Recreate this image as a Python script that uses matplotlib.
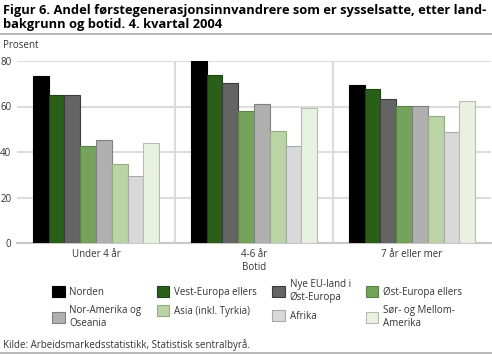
import matplotlib.pyplot as plt
import numpy as np

plt.rcParams['font.family'] = ['Open Sans', 'DejaVu Sans']

categories = ['Under 4 år', '4-6 år', '7 år eller mer']
series = ['Norden', 'Vest-Europa ellers', 'Nye EU-land i\nØst-Europa', 'Øst-Europa ellers',
          'Nor-Amerika og\nOseania', 'Asia (inkl. Tyrkia)', 'Afrika', 'Sør- og Mellom-\nAmerika']
values = [
    [73.6, 79.8, 69.6],
    [65.2, 73.7, 67.7],
    [64.9, 70.5, 63.5],
    [42.8, 58.2, 60.4],
    [45.4, 61.0, 60.4],
    [34.9, 49.1, 56.0],
    [29.6, 42.8, 48.7],
    [44.1, 59.5, 62.6],
]
colors = ['#000000', '#2a5f19', '#646464', '#76a35c', '#b0b0b0', '#bad4a6', '#d9d9d9', '#e9f1e1']
edges = ['#000000', '#1d4411', '#3c3c3c', '#5a8246', '#808080', '#95ac85', '#a8a8a8', '#b5bcae']

fig = plt.figure(figsize=(4.92, 3.55), dpi=100)
W, H = 492, 355
ax = fig.add_axes([17 / W, 1 - 243 / H, 474 / W, 182 / H])

x = np.arange(len(categories))
bw = 0.1
handles = []
for i, (name, vals) in enumerate(zip(series, values)):
    h = ax.bar(x - 0.35 + i * bw, vals, bw, color=colors[i], edgecolor=edges[i],
               linewidth=0.8, label=name, zorder=3)
    handles.append(h)

ax.set_xlim(-0.5, 2.5)
ax.set_ylim(0, 80)
ax.set_yticks([0, 20, 40, 60, 80])
ax.grid(axis='y', color='#dcdcdc', linewidth=1.5, zorder=0)
for sep in [0.5, 1.5]:
    ax.axvline(sep, color='#dcdcdc', linewidth=1.5, zorder=0)
for s in ['top', 'right', 'left']:
    ax.spines[s].set_visible(False)
ax.spines['bottom'].set_color('#c8c8c8')
ax.spines['bottom'].set_linewidth(1.5)
ax.set_xticks(x)
ax.set_xticklabels(categories)
ax.tick_params(length=0, labelsize=7, colors='#333333', pad=4)
ax.set_xlabel('Botid', fontsize=7, color='#333333', labelpad=2)

fig.text(0.006, 1 - 4 / H, 'Figur 6. Andel førstegenerasjonsinnvandrere som er sysselsatte, etter land-\nbakgrunn og botid. 4. kvartal 2004',
         fontsize=9.3, fontweight='bold', va='top', ha='left', linespacing=1.1)
fig.add_artist(plt.Line2D([0, 1], [1 - 34 / H] * 2, color='#aaaaaa', linewidth=1.2))
fig.text(0.006, 1 - 46 / H, 'Prosent', fontsize=7, color='#333333', va='center')
fig.text(0.006, 1 - 345 / H, 'Kilde: Arbeidsmarkedsstatistikk, Statistisk sentralbyrå.',
         fontsize=7, color='#333333', va='center')
fig.add_artist(plt.Line2D([0, 1], [1 - 353 / H] * 2, color='#aaaaaa', linewidth=1.2))

order = [0, 4, 1, 5, 2, 6, 3, 7]
leg = fig.legend([handles[i] for i in order], [series[i] for i in order], ncol=4,
                 loc='upper left', bbox_to_anchor=(48 / W, 1 - 275 / H), frameon=False,
                 fontsize=7, handlelength=1.3, handleheight=1.3, handletextpad=0.5,
                 columnspacing=1.55, labelspacing=0.75, borderaxespad=0)
for t in leg.get_texts():
    t.set_color('#333333')

fig.savefig('out.png', dpi=100)
